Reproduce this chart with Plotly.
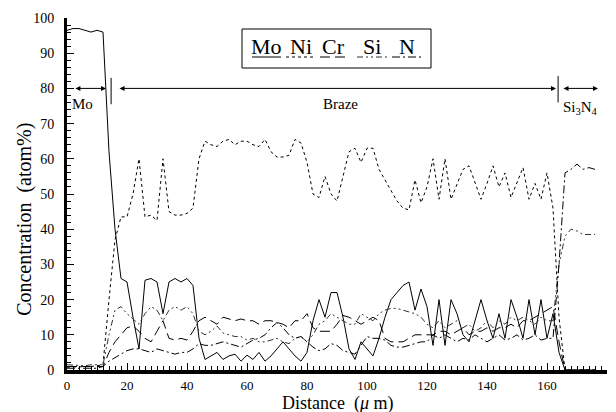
import plotly.graph_objects as go

distance = list(range(0, 177, 2))

mo = [96.5, 97, 97, 96.5, 96, 96.5, 96, 62, 40, 26, 25, 15, 6, 25.5, 26, 25, 16, 25, 26, 25,
      26, 24, 9, 3, 4, 5, 3, 4, 4.5, 2.5, 4.2, 3, 5, 2.5, 4, 6, 8, 6, 4, 2.5,
      5, 14, 20, 15, 22, 22, 15, 6, 3, 8, 6, 4, 9, 15, 20, 22, 24, 25, 17, 23,
      18, 7, 20, 7, 20, 16, 10, 8, 14, 20, 14, 9, 16, 9, 20, 15, 9, 20, 10, 20,
      9, 16, 5, 0, 0, 0, 0, 0, 0]
ni = [0.8, 0.8, 1, 1, 1, 1.2, 1.5, 20, 37, 43.5, 43.5, 50, 60, 43.5, 44, 42.5, 60, 45, 44, 44,
      44.5, 46, 60, 65, 64, 63.5, 65, 65.5, 64, 65, 65, 64, 63.5, 65.5, 62, 60.5, 60.5, 61, 65.5, 64.5,
      59, 50, 49, 55, 50, 48, 55, 62, 63, 59, 63, 63, 57, 54, 51, 48, 46, 45.5, 54, 47.5,
      52, 60, 48.5, 60, 48.5, 53, 57, 58, 53, 48.5, 53, 58, 52, 56, 49, 53, 57.5, 48.5, 53, 48.5,
      56, 46, 15, 0, 0, 0, 0, 0, 0]
cr = [1, 1, 1, 1.2, 1, 1, 1, 5, 8, 10, 12, 12.5, 11, 9, 8, 11, 14, 9, 8.5, 9,
      8.5, 11, 14, 15, 14, 13, 15, 14.5, 14, 14.5, 14, 14, 13, 14, 14, 13.5, 13, 12, 14, 14,
      16, 12, 11, 11, 11, 13, 15.5, 15, 14, 13, 14, 15, 14, 9, 8, 8, 8, 9, 10, 10,
      10, 10, 11, 11, 10, 11, 12, 10, 11, 11, 12, 11, 12, 12, 13, 12, 14, 14, 15, 16,
      17, 18, 8, 0, 0, 0, 0, 0, 0]
si = [1.5, 1.3, 1.3, 1.2, 1.5, 1.5, 1.5, 10, 17, 18, 16, 14.5, 13, 16, 18, 17, 14, 17, 18, 17,
      18, 16, 11, 10, 11, 12.5, 10.5, 10, 9.5, 9.5, 8.5, 9, 8, 8, 8.5, 9, 8, 7.5, 9, 9.5,
      8, 10, 13, 14, 16, 15, 14, 13, 13, 16, 15, 14, 16, 17, 17.5, 17.5, 17, 16.5, 16, 15,
      13, 12, 14, 12, 13, 14, 12, 13, 11, 12, 14, 12, 14, 13, 15, 14, 15, 14, 13, 15,
      14, 14, 30, 38, 40, 39.5, 38.5, 38.5, 38.5]
n = [0.5, 0.5, 0.5, 0.5, 0.5, 0.5, 1, 2.5, 3.5, 4.5, 5.5, 6, 6, 5.5, 5, 6, 5.5, 5, 4.5, 5,
     5, 6, 7.5, 7, 7, 7.5, 8, 7.5, 7, 6.5, 7.5, 8.5, 9, 10, 12, 13.5, 12, 10, 9, 9.5,
     8, 6.5, 5.5, 6, 7.5, 7, 5.5, 5, 4.5, 7, 9.5, 9, 9, 8.5, 7, 6.5, 6.5, 7, 7.5, 8,
     8, 10, 9, 10, 9, 8, 9, 8.5, 10, 9, 8, 9, 10, 8.5, 9, 10, 8.5, 9, 10, 8.5,
     9, 9, 30, 56, 57, 58.5, 57, 57.5, 57]

series = [
    ("Mo", mo, "solid", "black"),
    ("Ni", ni, "3px,3px", "black"),
    ("Cr", cr, "10px,5px", "black"),
    ("Si", si, "6px,3px,2px,3px,2px,3px", "#333333"),
    ("N", n, "8px,3px,2px,3px", "black"),
]

font = "Liberation Serif"
fig = go.Figure()
for name, vals, dash, col in series:
    fig.add_trace(go.Scatter(x=distance, y=vals, mode="lines", name=name,
                             line=dict(color=col, width=1, dash=dash)))

# legend box built as text + underline samples
legend_x = [(252, 281), (286, 316), (320, 347), (357, 387), (392, 422)]
px2x = lambda p: (p - 67) / 3.0
py2y = lambda p: (370 - p) / 3.52
shapes = [dict(type="rect", xref="x", yref="y", x0=px2x(242), x1=px2x(431),
               y0=py2y(68), y1=py2y(29), line=dict(color="black", width=1))]
annotations = []
for (name, vals, dash, col), (a, b) in zip(series, legend_x):
    shapes.append(dict(type="line", xref="x", yref="y", x0=px2x(a), x1=px2x(b),
                       y0=py2y(57), y1=py2y(57), line=dict(color=col, width=1, dash=dash)))
    annotations.append(dict(x=px2x((a + b) / 2), y=py2y(46), xref="x", yref="y", text=name,
                            showarrow=False, font=dict(family=font, size=22, color="black")))

# region markers
shapes.append(dict(type="line", xref="x", yref="y", x0=14.7, x1=14.7, y0=75.5, y1=83,
                   line=dict(color="black", width=1)))
shapes.append(dict(type="line", xref="x", yref="y", x0=163.7, x1=163.7, y0=76, y1=83.5,
                   line=dict(color="black", width=1)))
for x0, x1 in [(2.3, 13), (17, 163), (165, 177)]:
    annotations.append(dict(x=x1, y=80, ax=x0, ay=80, xref="x", yref="y", axref="x", ayref="y",
                            text="", showarrow=True, arrowhead=2, startarrowhead=2,
                            arrowside="end+start", arrowwidth=1, arrowsize=1, arrowcolor="black"))
annotations.append(dict(x=5.3, y=75.5, xref="x", yref="y", text="Mo", showarrow=False,
                        font=dict(family=font, size=15, color="black")))
annotations.append(dict(x=91, y=75.5, xref="x", yref="y", text="Braze", showarrow=False,
                        font=dict(family=font, size=15, color="black")))
annotations.append(dict(x=171, y=74.5, xref="x", yref="y", text="Si<sub>3</sub>N<sub>4</sub>",
                        showarrow=False, font=dict(family=font, size=15, color="black")))
annotations.append(dict(x=0.502, y=-0.096, xref="paper", yref="paper", yanchor="middle",
                        text="Distance  (<i>μ</i> m)", showarrow=False,
                        font=dict(family=font, size=18, color="black")))
annotations.append(dict(x=-0.078, y=0.429, xref="paper", yref="paper", xanchor="center",
                        yanchor="middle", textangle=-90,
                        text="Concentration  (atom%)", showarrow=False,
                        font=dict(family=font, size=20, color="black")))

fig.update_layout(
    width=616, height=412,
    margin=dict(l=67, r=9, t=18, b=42),
    paper_bgcolor="white", plot_bgcolor="white",
    showlegend=False,
    shapes=shapes, annotations=annotations,
    font=dict(family=font, color="black"),
)
fig.update_xaxes(range=[0, 180], dtick=20, tick0=0, showgrid=False, zeroline=False,
                 showline=True, linecolor="black", linewidth=4, automargin=False,
                 ticks="inside", ticklen=7, tickwidth=1, tickcolor="black",
                 minor=dict(dtick=2, ticks="inside", ticklen=4, tickwidth=1, tickcolor="black"),
                 tickfont=dict(family=font, size=13), ticklabelstandoff=0)
fig.update_yaxes(range=[0, 100], dtick=10, tick0=0, showgrid=False, zeroline=False,
                 showline=True, linecolor="black", linewidth=3, automargin=False,
                 ticks="inside", ticklen=7, tickwidth=1, tickcolor="black",
                 minor=dict(dtick=2, ticks="inside", ticklen=4, tickwidth=1, tickcolor="black"),
                 tickfont=dict(family=font, size=14), ticklabelstandoff=7)

fig.write_html("out.html", post_script="document.body.style.margin='0';",
               config={"displayModeBar": False})
